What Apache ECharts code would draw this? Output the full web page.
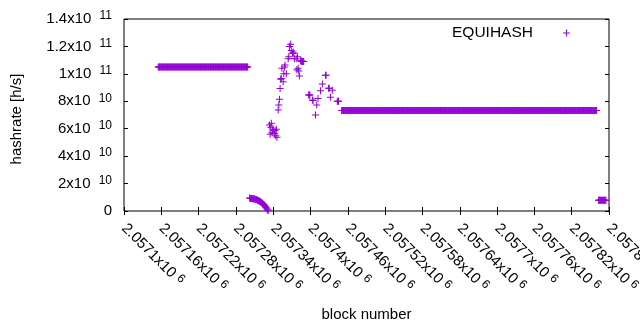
<!DOCTYPE html>
<html>
<head>
<meta charset="utf-8">
<title>EQUIHASH hashrate</title>
<script src="https://cdn.jsdelivr.net/npm/echarts@6/dist/echarts.min.js"></script>
<style>
  html, body { margin: 0; padding: 0; background: #fff; }
  #chart { width: 640px; height: 330px; }
</style>
</head>
<body>
<div id="chart"></div>
<script>
// flat stretches: the same value on every block from start to end
const runStart = [2057155, 2057450, 2057863]
const runEnd = [2057299, 2057860, 2057875]
const runValue = [1.05e11, 7.32e10, 7.8e9]

// single blocks: the drop, the spike and the way back down
const pointBlock = [
  2057302, 2057303, 2057304, 2057305, 2057306, 2057307, 2057308, 2057309, 2057310, 2057311,
  2057312, 2057313, 2057314, 2057315, 2057316, 2057317, 2057318, 2057319, 2057320, 2057321,
  2057322, 2057323, 2057324, 2057325, 2057326, 2057327, 2057328, 2057329, 2057330, 2057331,
  2057332,
  2057334, 2057335, 2057336, 2057337, 2057338, 2057339, 2057340, 2057342, 2057343, 2057344,
  2057345, 2057346,
  2057348, 2057349, 2057350, 2057351, 2057352, 2057353, 2057354, 2057356, 2057357, 2057358,
  2057359, 2057361, 2057364, 2057365, 2057366, 2057368, 2057369, 2057371, 2057372, 2057373,
  2057374, 2057377, 2057378, 2057379, 2057380, 2057381, 2057382, 2057384, 2057385, 2057386,
  2057387, 2057388, 2057389,
  2057397, 2057398, 2057399, 2057403, 2057404, 2057408, 2057410, 2057412, 2057416, 2057419,
  2057424, 2057425, 2057429, 2057430, 2057432, 2057435, 2057443, 2057444, 2057445
]
const pointValue = [
  9.4e9, 9.3e9, 9.2e9, 9.2e9, 9.1e9, 9.0e9, 8.9e9, 8.8e9, 8.7e9, 8.6e9,
  8.4e9, 8.3e9, 8.1e9, 7.9e9, 7.7e9, 7.5e9, 7.2e9, 6.9e9, 6.6e9, 6.2e9,
  5.8e9, 5.4e9, 5.0e9, 4.5e9, 4.0e9, 3.4e9, 2.8e9, 2.1e9, 1.4e9, 0.8e9,
  0.3e9,
  6.27e10, 5.6e10, 6.1e10, 6.4e10, 5.7e10, 5.9e10, 5.96e10, 5.66e10, 5.85e10, 5.49e10,
  5.96e10, 5.37e10,
  7.36e10, 7.73e10, 8.14e10, 8.94e10, 9.6e10, 9.67e10, 1.04e11, 9.43e10, 1.0e11, 1.05e11,
  1.064e11, 1.0e11, 1.11e11, 1.125e11, 1.2e11, 1.215e11, 1.17e11, 1.15e11, 1.16e11, 1.15e11,
  1.11e11, 1.11e11, 1.03e11, 1.125e11, 1.04e11, 1.02e11, 9.84e10, 1.095e11, 1.09e11, 1.095e11,
  1.09e11, 1.09e11, 1.09e11,
  8.46e10, 8.46e10, 8.46e10, 8.1e10, 8.05e10, 7.0e10, 7.73e10, 8.2e10, 8.77e10, 9.26e10,
  9.9e10, 9.9e10, 8.95e10, 8.95e10, 8.3e10, 8.8e10, 8.0e10, 8.0e10, 8.0e10
]

// axis ranges / ticks
const xMin = 2057100
const xMax = 2057880
const xStep = 60
const yMax = 1.4e11
const yStep = 2e10

const seriesName = 'EQUIHASH'
const violet = '#9400d3'
const font = 'Liberation Sans'

const data = []
runStart.forEach((s, i) => {
  for (let b = s; b <= runEnd[i]; b++) data.push([b, runValue[i]])
})
pointBlock.forEach((b, i) => data.push([b, pointValue[i]]))
data.sort((a, b) => a[0] - b[0])

// 1.4x10^11 style labels
function sci (v) {
  if (v === 0) return '0'
  const e = Math.floor(Math.log10(v) + 1e-9)
  const m = parseFloat((v / Math.pow(10, e)).toFixed(6))
  return m + 'x10 {sup|' + e + '}'
}

const richY = {
  sup: { fontSize: 12, fontFamily: font, color: '#000', verticalAlign: 'top', padding: [0, 0, 6, 4] }
}
const richX = {
  sup: { fontSize: 12, fontFamily: font, color: '#000', verticalAlign: 'top', padding: [0, 0, 6, 0] }
}

const tickStyle = { show: true, inside: true, length: 4, lineStyle: { color: '#000' } }

const myChart = echarts.init(document.getElementById('chart'))
myChart.setOption({
  animation: false,
  backgroundColor: '#fff',
  grid: {
    left: 124,
    right: 31,
    top: 19,
    bottom: 119,
    outerBoundsMode: 'none',
    containLabel: false,
    show: true,
    borderColor: '#000',
    borderWidth: 1
  },
  legend: {
    data: [seriesName],
    left: 447,
    top: 20,
    align: 'right',
    itemWidth: 7,
    itemHeight: 7,
    selectedMode: false,
    textStyle: { fontSize: 15.5, fontFamily: font, color: '#000', padding: [0, 25, 0, 0] }
  },
  xAxis: [
    {
      type: 'value',
      min: xMin,
      max: xMax,
      interval: xStep,
      name: 'block number',
      nameLocation: 'middle',
      nameGap: 96,
      nameTextStyle: { fontSize: 15, fontFamily: font, color: '#000' },
      axisLine: { show: false },
      axisTick: tickStyle,
      splitLine: { show: false },
      axisLabel: {
        rotate: -45,
        margin: 15,
        fontSize: 15,
        fontFamily: font,
        color: '#000',
        formatter: sci,
        rich: richX
      }
    },
    {
      type: 'value',
      position: 'top',
      min: xMin,
      max: xMax,
      interval: xStep,
      axisLine: { show: false },
      axisTick: tickStyle,
      splitLine: { show: false },
      axisLabel: { show: false }
    }
  ],
  yAxis: [
    {
      type: 'value',
      min: 0,
      max: yMax,
      interval: yStep,
      name: 'hashrate [h/s]',
      nameLocation: 'middle',
      nameGap: 100,
      nameTextStyle: { fontSize: 15, fontFamily: font, color: '#000', padding: [0, 8, 0, 0] },
      axisLine: { show: false },
      axisTick: tickStyle,
      splitLine: { show: false },
      axisLabel: {
        margin: 12,
        fontSize: 15,
        fontFamily: font,
        color: '#000',
        formatter: sci,
        rich: richY
      }
    },
    {
      type: 'value',
      position: 'right',
      min: 0,
      max: yMax,
      interval: yStep,
      axisLine: { show: false },
      axisTick: tickStyle,
      splitLine: { show: false },
      axisLabel: { show: false }
    }
  ],
  series: [
    {
      name: seriesName,
      type: 'scatter',
      xAxisIndex: 0,
      yAxisIndex: 0,
      symbol: 'path://M3,0h1v7h-1zM0,3h7v1h-7z',
      symbolSize: 7,
      itemStyle: { color: violet, opacity: 1 },
      data: data
    }
  ]
})
</script>
</body>
</html>
